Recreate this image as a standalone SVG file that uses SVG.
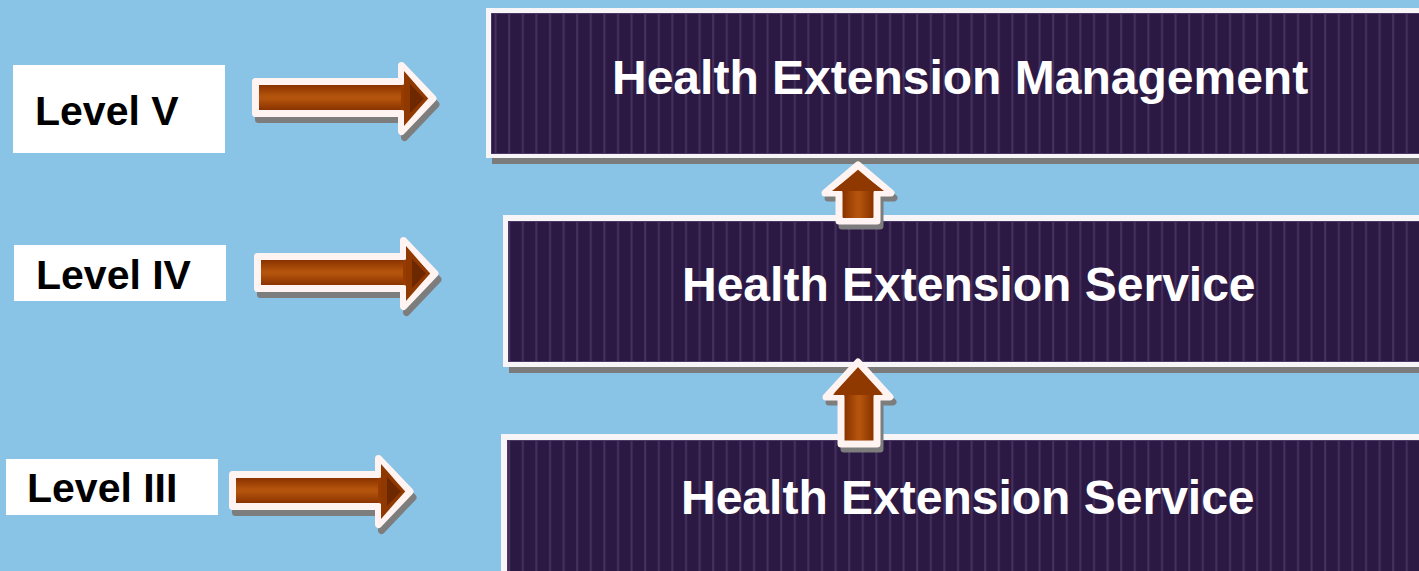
<svg xmlns="http://www.w3.org/2000/svg" width="1419" height="571" viewBox="0 0 1419 571">
<defs>
<pattern id="stripes" x="0" y="0" width="13.6" height="20" patternUnits="userSpaceOnUse">
<rect width="13.6" height="20" fill="#2c1943"/>
<rect x="5" width="2" height="20" fill="#44315f"/>
</pattern>
<linearGradient id="bodyH" x1="0" y1="0" x2="0" y2="1">
<stop offset="0" stop-color="#8a3300"/>
<stop offset="0.45" stop-color="#b4540c"/>
<stop offset="0.55" stop-color="#b4540c"/>
<stop offset="1" stop-color="#8a3300"/>
</linearGradient>
<linearGradient id="bodyV" x1="0" y1="0" x2="1" y2="0">
<stop offset="0" stop-color="#8a3300"/>
<stop offset="0.45" stop-color="#b4540c"/>
<stop offset="0.55" stop-color="#b4540c"/>
<stop offset="1" stop-color="#8a3300"/>
</linearGradient>
<g id="rarrow">
<path d="M3.5,19.5 L149.5,19.5 L149.5,3.5 L181,36.5 L149.5,69.5 L149.5,51.5 L3.5,51.5 Z" transform="translate(3,6)" class="shadow"/>
<path d="M3.5,19.5 L149.5,19.5 L149.5,3.5 L181,36.5 L149.5,69.5 L149.5,51.5 L3.5,51.5 Z" class="arr"/>
<rect x="7" y="23" width="142" height="25" fill="url(#bodyH)"/>
<path d="M152,9 L176,36.5 L152,64 Z" fill="#8f3800"/>
<path d="M158,22 L172,36.5 L158,51 Z" fill="#6e2800"/>
</g>
<style>
.shadow{fill:#7d7d7d;stroke:#7d7d7d;stroke-width:7;stroke-linejoin:round}
.arr{fill:#973b00;stroke:#fff4f1;stroke-width:7;stroke-linejoin:round}
.lab{fill:#ffffff}
.labt{font-family:"Liberation Sans",Arial,sans-serif;font-weight:bold;font-size:41px;fill:#000000}
.bt{font-family:"Liberation Sans",Arial,sans-serif;font-weight:bold;font-size:48px;fill:#ffffff}
.bshadow{fill:#7b7b7b}
.bframe{fill:#f7f5f8}
.bfill{fill:url(#stripes);stroke:#4c3866;stroke-width:1}
</style>
</defs>
<rect width="1419" height="571" fill="#89c3e6"/>

<g id="box-management">
<rect class="bshadow" x="492" y="14" width="940" height="150"/>
<rect class="bframe" x="486" y="8" width="940" height="150"/>
<rect class="bfill" x="491.5" y="13.5" width="940" height="140"/>
<text class="bt" x="612" y="94">Health Extension Management</text>
</g>

<g id="box-service-iv">
<rect class="bshadow" x="509" y="221" width="920" height="152"/>
<rect class="bframe" x="503" y="215" width="920" height="152"/>
<rect class="bfill" x="508.5" y="221.5" width="920" height="140"/>
<text class="bt" x="682" y="301">Health Extension Service</text>
</g>

<g id="box-service-iii">
<rect class="bframe" x="501" y="434" width="920" height="150"/>
<rect class="bfill" x="507.5" y="440.5" width="920" height="140"/>
<text class="bt" x="681" y="514">Health Extension Service</text>
</g>

<g id="label-v">
<rect class="lab" x="13" y="65" width="212" height="88"/>
<text class="labt" x="35" y="125">Level V</text>
</g>
<g id="label-iv">
<rect class="lab" x="14" y="245" width="212" height="56"/>
<text class="labt" x="36" y="289">Level IV</text>
</g>
<g id="label-iii">
<rect class="lab" x="6" y="459" width="212" height="56"/>
<text class="labt" x="27" y="502">Level III</text>
</g>

<g id="connectors">
<use href="#rarrow" transform="translate(252,62)"/>
<use href="#rarrow" transform="translate(254,237)"/>
<use href="#rarrow" transform="translate(229,455)"/>

<path d="M858,165 L891,193 L877,193 L877,221 L839,221 L839,193 L825,193 Z" class="shadow" transform="translate(3,5)"/>
<path d="M858,165 L891,193 L877,193 L877,221 L839,221 L839,193 L825,193 Z" class="arr"/>
<rect x="843" y="191" width="30" height="27" fill="url(#bodyV)"/>
<path d="M858,171 L884,191 L832,191 Z" fill="#8f3800"/>

<path d="M858,362 L890,397 L877,397 L877,444 L841,444 L841,397 L826,397 Z" class="shadow" transform="translate(3,5)"/>
<path d="M858,362 L890,397 L877,397 L877,444 L841,444 L841,397 L826,397 Z" class="arr"/>
<rect x="845" y="394" width="28" height="46" fill="url(#bodyV)"/>
<path d="M858,368 L883,395 L833,395 Z" fill="#8f3800"/>
</g>
</svg>
